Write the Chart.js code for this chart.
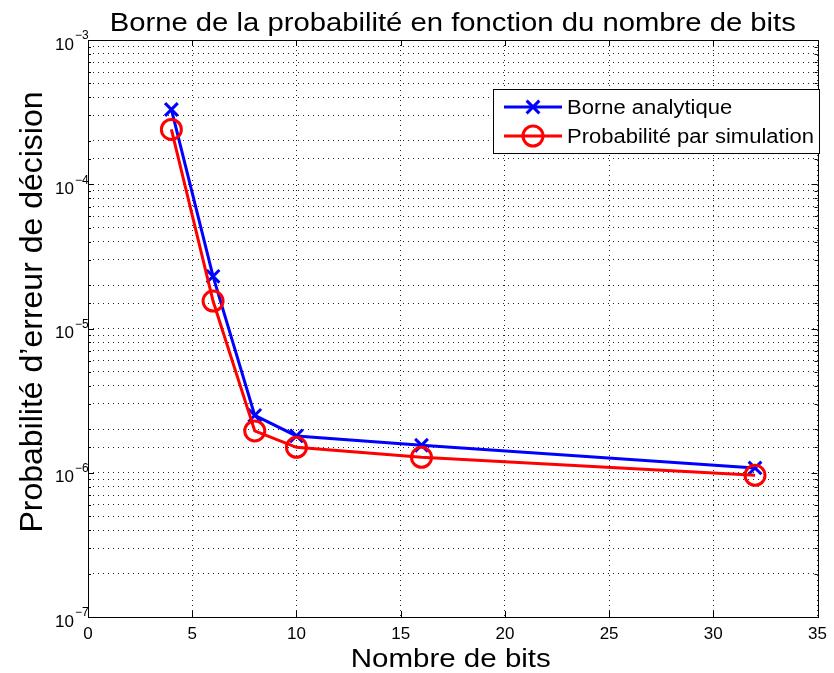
<!DOCTYPE html>
<html>
<head>
<meta charset="utf-8">
<script src="https://cdn.jsdelivr.net/npm/chart.js@4.4.1/dist/chart.umd.min.js"></script>
<style>
  html, body { margin: 0; padding: 0; background: #fff; }
  #wrap { width: 834px; height: 673px; }
</style>
</head>
<body>
<div id="wrap"><canvas id="chart" width="834" height="673"></canvas></div>
<script>
// données
const bits = [4, 6, 8, 10, 16, 32];
const borneAnalytique = [3.3e-4, 2.3e-5, 2.5e-6, 1.8e-6, 1.55e-6, 1.08e-6];
const probaSimulation = [2.4e-4, 1.55e-5, 1.95e-6, 1.5e-6, 1.28e-6, 0.96e-6];
const seriesLabels = ['Borne analytique', 'Probabilité par simulation'];
const xTicks = [0, 5, 10, 15, 20, 25, 30, 35];
const yDecades = [1e-7, 1e-6, 1e-5, 1e-4, 1e-3];
const titre = 'Borne de la probabilité en fonction du nombre de bits';
const titreX = 'Nombre de bits';
const titreY = 'Probabilité d\u2019erreur de décision';

const FONT = '"Liberation Sans", Arial, Helvetica, sans-serif';

function isDecade(v) {
  return yDecades.some(d => Math.abs(v / d - 1) < 1e-6);
}

// texte un peu élargi, comme le rendu MATLAB
function wideText(ctx, text, x, y, size, sx) {
  ctx.save();
  ctx.font = size + 'px ' + FONT;
  ctx.translate(x, y);
  ctx.scale(sx, 1);
  ctx.fillText(text, 0, 0);
  ctx.restore();
}

// titres + exposants des graduations
const textPlugin = {
  id: 'texts',
  afterDraw(chart) {
    const { ctx, chartArea: a, scales } = chart;
    const cx = (a.left + a.right) / 2;
    ctx.save();
    ctx.fillStyle = '#000';
    ctx.textAlign = 'center';
    ctx.textBaseline = 'alphabetic';
    wideText(ctx, titre, cx, 31, 25, 1.17);
    ctx.textBaseline = 'middle';
    wideText(ctx, titreX, cx - 2, 660, 25, 1.18);

    ctx.save();
    ctx.translate(33, 312);
    ctx.rotate(-Math.PI / 2);
    ctx.font = '32px ' + FONT;
    ctx.fillText(titreY, 0, 0);
    ctx.restore();

    // exposants 10^-k
    ctx.font = '12px ' + FONT;
    ctx.textAlign = 'left';
    yDecades.forEach(d => {
      const y = scales.y.getPixelForValue(d);
      const e = Math.round(Math.log10(d));
      ctx.fillText(String(e).replace('-', '\u2212'), a.left - 13, y - 4);
    });
    ctx.restore();
  }
};

// cadre + petites graduations vers l'intérieur
const boxPlugin = {
  id: 'box',
  afterDraw(chart) {
    const { ctx, chartArea: a, scales } = chart;
    ctx.save();
    ctx.strokeStyle = '#000';
    ctx.lineWidth = 1;
    ctx.strokeRect(Math.round(a.left) + 0.5, Math.round(a.top) + 0.5,
      Math.round(a.right - a.left), Math.round(a.bottom - a.top));
    ctx.beginPath();
    xTicks.forEach(t => {
      const x = Math.round(scales.x.getPixelForValue(t)) + 0.5;
      ctx.moveTo(x, a.bottom); ctx.lineTo(x, a.bottom - 6);
      ctx.moveTo(x, a.top); ctx.lineTo(x, a.top + 6);
    });
    scales.y.ticks.forEach(t => {
      const len = isDecade(t.value) ? 6 : 3;
      const y = Math.round(scales.y.getPixelForValue(t.value)) + 0.5;
      ctx.moveTo(a.left, y); ctx.lineTo(a.left + len, y);
      ctx.moveTo(a.right, y); ctx.lineTo(a.right - len, y);
    });
    ctx.stroke();
    ctx.restore();
  }
};

// légende dans le coin supérieur droit
const legendPlugin = {
  id: 'insideLegend',
  afterDraw(chart) {
    const { ctx } = chart;
    const x0 = 493, y0 = 89, w = 326, h = 64;
    ctx.save();
    ctx.fillStyle = '#fff';
    ctx.fillRect(x0, y0, w, h);
    ctx.strokeStyle = '#000';
    ctx.lineWidth = 1;
    ctx.strokeRect(x0 + 0.5, y0 + 0.5, w, h);
    const rows = [y0 + 18, y0 + 47];
    chart.data.datasets.forEach((ds, i) => {
      const y = rows[i];
      ctx.strokeStyle = ds.borderColor;
      ctx.lineWidth = ds.borderWidth;
      ctx.beginPath();
      ctx.moveTo(x0 + 11, y); ctx.lineTo(x0 + 69, y);
      ctx.stroke();
      ctx.fillStyle = 'rgba(0,0,0,0)';
      ctx.strokeStyle = ds.pointBorderColor;
      ctx.lineWidth = ds.pointBorderWidth;
      Chart.helpers.drawPoint(ctx, {
        pointStyle: ds.pointStyle, radius: ds.pointRadius, rotation: 0,
        borderWidth: ds.pointBorderWidth
      }, x0 + 40, y);
      ctx.fillStyle = '#000';
      ctx.textBaseline = 'middle';
      ctx.textAlign = 'left';
      wideText(ctx, ds.label, x0 + 74, y + 1, 20, 1.1);
    });
    ctx.restore();
  }
};

const ctx = document.getElementById('chart').getContext('2d');
new Chart(ctx, {
  type: 'line',
  data: {
    datasets: [
      {
        label: seriesLabels[0],
        data: bits.map((b, i) => ({ x: b, y: borneAnalytique[i] })),
        borderColor: '#0000ff',
        backgroundColor: 'rgba(0,0,0,0)',
        borderWidth: 3,
        pointStyle: 'crossRot',
        pointRadius: 9,
        pointBorderWidth: 3,
        pointBorderColor: '#0000ff',
        pointBackgroundColor: 'rgba(0,0,0,0)',
        tension: 0,
        order: 2
      },
      {
        label: seriesLabels[1],
        data: bits.map((b, i) => ({ x: b, y: probaSimulation[i] })),
        borderColor: '#ff0000',
        backgroundColor: 'rgba(0,0,0,0)',
        borderWidth: 3,
        pointStyle: 'circle',
        pointRadius: 10,
        pointBorderWidth: 3,
        pointBorderColor: '#ff0000',
        pointBackgroundColor: 'rgba(0,0,0,0)',
        tension: 0,
        order: 1
      }
    ]
  },
  options: {
    responsive: false,
    animation: false,
    devicePixelRatio: 1,
    layout: { padding: { left: 0, right: 9, top: 40, bottom: 0 } },
    plugins: {
      legend: { display: false },
      tooltip: { enabled: false },
      title: { display: false }
    },
    scales: {
      x: {
        type: 'linear',
        min: 0,
        max: 35,
        afterFit(scale) { scale.height = 56; },
        afterBuildTicks(scale) { scale.ticks = xTicks.map(v => ({ value: v })); },
        ticks: {
          color: '#000',
          font: { family: FONT, size: 17 },
          padding: 7,
          maxRotation: 0
        },
        grid: { color: '#222', lineWidth: 1, drawTicks: false },
        border: { display: false, dash: [1, 4] }
      },
      y: {
        type: 'logarithmic',
        min: 1e-7,
        max: 1e-3,
        afterFit(scale) { scale.width = 88; },
        ticks: {
          color: '#000',
          font: { family: FONT, size: 17 },
          padding: 14,
          labelOffset: 5,
          autoSkip: false,
          callback(v) { return isDecade(v) ? '10' : ''; }
        },
        grid: { color: '#222', lineWidth: 1, drawTicks: false },
        border: { display: false, dash: [1, 4] }
      }
    }
  },
  plugins: [boxPlugin, legendPlugin, textPlugin]
});
</script>
</body>
</html>
